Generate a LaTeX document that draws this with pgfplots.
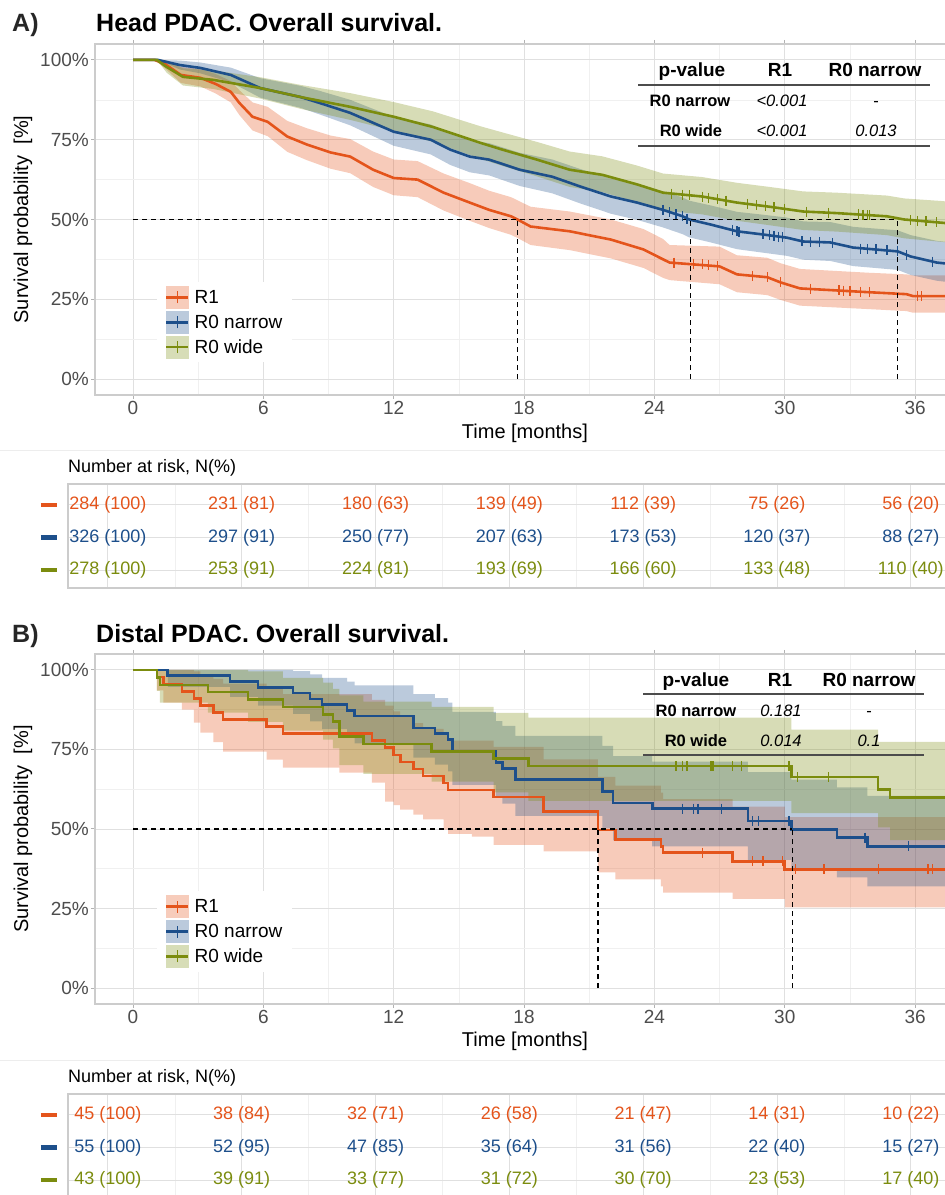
\documentclass[border=0pt]{standalone}
\usepackage{pgfplots}
\usepackage{pgfplotstable}
\pgfplotsset{compat=1.18}
\usepackage{fontspec}
\setmainfont{Liberation Sans}
\definecolor{cR}{HTML}{E4541B}
\definecolor{cN}{HTML}{1D4F8B}
\definecolor{cW}{HTML}{7B8C0E}
\definecolor{tickc}{HTML}{4D4D4D}
\newcommand\fsz[1]{\fontsize{#1}{#1}\selectfont}

% ---------- Panel A data (Kaplan-Meier estimates) ----------
\pgfplotstableread{
t s
0 100
1.0 100
1.5 98.6
2.2 95.3
3.1 94.4
3.8 92.5
4.5 90
4.9 86.5
5.5 82.2
6.2 80.6
7.1 76
8.0 73.5
9.1 71
10 69.7
11.05 65.6
12 63
13.1 62.5
14.3 58.4
15.5 55.3
16.4 53
17.4 51
17.7 50
18.3 47.8
20.1 46.3
22 43.7
23.5 40.6
24.4 37.5
24.7 36.5
27 35.3
27.8 32.8
29.2 31.9
29.8 30.3
30.7 28.4
33.9 27.2
35.6 26.6
35.9 26
38 26
}\ARone
\pgfplotstableread{
t s
0 100
1.15 100
2.16 98.4
3.1 97.5
4.5 95.3
5.85 91.2
7.7 88.4
8.6 86.5
10 83.4
12 77.5
13.7 75
14.6 71.9
15.5 69.7
16.4 68.75
17.8 65.6
19.3 63.4
20.6 60.3
22 57.2
23.2 55.3
24.4 53
25.3 51
25.6 50
26.6 48.4
27.8 46.3
29 45.3
30.1 44.3
30.85 43.1
32.1 42.8
33.15 41.2
35.2 40
35.8 38.4
37 36.5
38 35.8
}\ANar
\pgfplotstableread{
t s
0 100
1.1 100
1.55 97.8
2.3 94.7
3.7 93.75
5.85 91.2
7.7 88.4
10 85.3
12 82.2
13.8 79
16 74
17 71.9
18.6 68.75
20.1 65.6
21.6 64
23.2 61
24.4 58.4
26.2 57.2
27.8 55.3
29.3 54
30.85 52.5
32.4 52
34.7 51
35.5 50
37.2 49
38 48.5
}\AWid
\pgfplotstableread{
t s
24.9 36.5
25.8 36.2
26.2 36
26.5 35.8
26.9 35.5
28.5 32.4
29.2 31.9
29.8 30.3
31.2 28.3
32.5 27.8
32.7 27.7
33.0 27.6
33.5 27.4
33.9 27.2
36.1 26
36.3 26
}\ARoneC
\pgfplotstableread{
t s
24.4 53
24.7 52.3
25.0 51.7
25.3 51
25.5 50.3
27.6 46.6
27.8 46.3
27.9 46.2
29.0 45.3
29.3 45.1
29.5 44.9
29.7 44.6
29.9 44.5
30.8 43.2
31.2 43
31.6 42.9
32.2 42.7
33.5 40.9
33.8 40.8
34.2 40.6
34.7 40.3
35.2 40
35.6 38.9
36.8 36.8
}\ANarC
\pgfplotstableread{
t s
24.8 58.1
25.3 57.8
25.6 57.6
26.2 57.2
26.5 56.8
26.9 56.3
27.3 55.9
28.3 54.9
28.7 54.5
29.1 54.2
29.5 53.8
30.0 53.4
31.0 52.5
32.0 52.1
33.4 51.6
33.6 51.5
33.8 51.4
33.9 51.4
35.8 49.8
36.1 49.6
36.5 49.4
37.0 49.1
}\AWidC

% ---------- Panel B data ----------
\pgfplotstableread{
t s
0 100
1.1 97.8
1.4 95.6
2.25 93.3
2.8 91.1
3.1 88.9
3.7 86.7
4.15 84.4
6.15 82.2
6.9 80.0
11.0 77.8
11.6 75.6
12.0 73.3
12.3 71.1
12.9 68.9
13.35 66.7
14.3 64.4
14.5 62.2
16.6 60.0
18.9 55.5
21.4 49.7
22.2 46.7
24.3 44.5
24.4 42.6
27.6 39.8
30.0 37.3
38 37.3
}\BRone
\pgfplotstableread{
t s
0 100
1.6 98.2
4.47 96.4
5.76 94.5
7.37 92.7
8.15 90.9
8.7 89.1
9.85 87.3
10.2 85.5
12.9 81.8
13.9 80.0
14.5 78.2
14.7 74.5
16.7 70.9
17.0 69.1
17.6 65.5
21.6 61.8
22.1 58.2
23.9 56.4
28.3 52.5
30.3 49.8
32.4 47.3
33.8 44.5
38 44.5
}\BNar
\pgfplotstableread{
t s
0 100
1.1 97.7
1.24 95.3
3.45 93.0
5.3 90.7
6.9 88.4
8.75 86.0
9.2 83.7
9.5 79.1
10.6 76.7
13.75 74.4
16.6 72.1
18.2 69.8
30.3 66.3
34.3 62.5
34.85 59.9
38 59.9
}\BWid
\pgfplotstableread{
t s
26.2 42.6
28.5 39.8
29.0 39.8
29.9 39.8
30.5 37.3
31.8 37.3
34.3 37.3
36.6 37.3
36.8 37.3
}\BRoneC
\pgfplotstableread{
t s
25.3 56.4
25.8 56.4
26.0 56.4
27.1 56.4
28.5 52.5
28.8 52.5
30.2 52.5
33.7 47.3
35.7 44.5
}\BNarC
\pgfplotstableread{
t s
25.0 69.8
25.3 69.8
25.5 69.8
26.6 69.8
26.7 69.8
27.6 69.8
28.0 69.8
30.2 69.8
30.6 66.3
32.0 66.3
}\BWidC

\pgfplotsset{
  km/.style={
    scale only axis, width=907pt,
    xmin=-1.75, xmax=40, ymin=-5, ymax=105,
    xtick={0,6,...,36}, ytick={0,25,50,75,100},
    yticklabels={0\%,25\%,50\%,75\%,100\%},
    minor x tick num=1, minor y tick num=1,
    grid=both,
    major grid style={draw=black!12, line width=0.9pt},
    minor grid style={draw=black!6, line width=0.6pt},
    axis line style={draw=black!20, line width=1.2pt},
    tick align=outside, major tick length=4pt, minor tick length=0pt,
    tick style={draw=black!30, line width=1pt},
    tick label style={font=\fsz{19}, text=tickc},
    xticklabel style={inner sep=2pt},
    yticklabel style={inner sep=2pt},
    /pgf/number format/assume math mode=true,
    xlabel={Time [months]}, ylabel={Survival probability\ \ [\%]},
    label style={font=\fsz{20}},
    xlabel style={at={(axis description cs:0.474,-0.108)}, anchor=center},
    ylabel style={at={(axis description cs:-0.0794,0.5)}, anchor=center},
    legend cell align=left,
    legend style={draw=none, fill=white, font=\fsz{19},
      at={(axis description cs:0.0684,0.322)}, anchor=north west,
      inner xsep=8pt, inner ysep=4pt, row sep=2.5pt},
  },
  risk/.style={
    scale only axis, width=932pt, height=104pt,
    xmin=-1.79, xmax=40, ymin=0.45, ymax=3.64,
    xtick={0,6,...,36}, minor x tick num=1, xticklabels={},
    ytick={1,2,3},
    yticklabels={{\textcolor{cW}{\rule[-2pt]{16pt}{4.5pt}}},{\textcolor{cN}{\rule[-2pt]{16pt}{4.5pt}}},{\textcolor{cR}{\rule[-2pt]{16pt}{4.5pt}}}},
    xmajorgrids, xminorgrids, ymajorgrids,
    major grid style={draw=black!12, line width=0.9pt},
    minor grid style={draw=black!6, line width=0.6pt},
    axis line style={draw=black!20, line width=1.2pt},
    major tick length=0pt, minor tick length=0pt,
    yticklabel style={inner sep=0pt, xshift=-11pt},
    clip=false,
  },
  rt/.style={only marks, mark=*, mark size=0pt, mark options={draw=none,fill=none},
    nodes near coords={\pgfplotspointmeta}, point meta=explicit symbolic,
    every node near coord/.append style={anchor=center, font=\fsz{18}, text=#1}},
  band/.style={fill=#1, fill opacity=0.3, draw=none, forget plot},
  kmline/.style={#1, line width=2.6pt, forget plot},
  cens/.style={#1, only marks, mark=|, mark size=5pt, mark options={line width=1.3pt}, forget plot},
  med/.style={black, line width=1.4pt, dash pattern=on 5pt off 4pt, forget plot},
}

\newcommand\legimg[1]{\addlegendimage{legend image code/.code={%
  \fill[#1!30] (0pt,-11pt) rectangle (22pt,11pt);
  \draw[#1,line width=2.5pt] (0pt,0pt)--(22pt,0pt);
  \draw[#1,line width=1.5pt] (11pt,-6pt)--(11pt,6pt);
  \path (26pt,0pt);}}}

\begin{document}
\begin{tikzpicture}
\path[use as bounding box] (0pt,0pt) rectangle (945pt,1195pt);
\clip (0pt,0pt) rectangle (945pt,1195pt);

% ================= Panel A =================
\begin{axis}[km, height=351pt, at={(95pt,800pt)}, anchor=south west]
% 95% confidence bands: upper limits forward, lower limits backward
\addplot[band=cR] coordinates {(0,100)(1.0,100)(1.5,99.9)(2.2,97.8)(3.1,97.2)(3.8,95.6)(4.5,93.4)(4.9,90.5)(5.5,86.7)(6.2,85.3)(7.1,80.9)(8.0,78.6)(9.1,76.3)(10,75.2)(11.05,71.3)(12,68.8)(13.1,68.3)(14.3,64.4)(15.5,61.4)(16.4,59)(17.4,57)(17.7,56)(18.3,54)(20.1,52.5)(22,50)(23.5,47)(24.4,43.9)(24.7,42)(27,41.5)(27.8,38.8)(29.2,38)(29.8,36.3)(30.7,34.5)(33.9,33.3)(35.6,32.8)(35.9,32.5)(38,32.5)
(38,20.8)(35.9,20.8)(35.6,21.3)(33.9,21.9)(30.7,23)(29.8,24.8)(29.2,26.3)(27.8,27.2)(27,29.7)(24.7,31)(24.4,31.7)(23.5,34.8)(22,37.8)(20.1,40.4)(18.3,42)(17.7,44.2)(17.4,45.2)(16.4,47.3)(15.5,49.6)(14.3,52.8)(13.1,57)(12,57.6)(11.05,60.2)(10,64.5)(9.1,65.9)(8.0,68.6)(7.1,71.2)(6.2,76.1)(5.5,77.9)(4.9,82.7)(4.5,86.7)(3.8,89.5)(3.1,91.7)(2.2,92.8)(1.5,97.2)(1.0,100)(0,100)};
\addplot[band=cN] coordinates {(0,100)(1.15,100)(2.16,99.8)(3.1,99.2)(4.5,97.6)(5.85,94.3)(7.7,91.9)(8.6,90.3)(10,87.5)(12,82.1)(13.7,79.8)(14.6,76.9)(15.5,74.8)(16.4,73.9)(17.8,70.9)(19.3,68.8)(20.6,65.8)(22,62.8)(23.2,61)(24.4,58.8)(25.3,56.9)(25.6,55.9)(26.6,54.4)(27.8,52.4)(29,51.5)(30.1,50.6)(30.85,49.4)(32.1,49.2)(33.15,47.7)(35.2,46.6)(35.8,45.1)(37,43.3)(38,42.6)
(38,30)(37,30.8)(35.8,32.6)(35.2,34.2)(33.15,35.4)(32.1,37)(30.85,37.4)(30.1,38.6)(29,39.6)(27.8,40.7)(26.6,42.8)(25.6,44.4)(25.3,45.4)(24.4,47.5)(23.2,49.9)(22,51.8)(20.6,55)(19.3,58.2)(17.8,60.5)(16.4,63.8)(15.5,64.8)(14.6,67.1)(13.7,70.4)(12,73.1)(10,79.5)(8.6,82.9)(7.7,85)(5.85,88.2)(4.5,93)(3.1,95.8)(2.16,97.0)(1.15,100)(0,100)};
\addplot[band=cW] coordinates {(0,100)(1.1,100)(1.55,99.6)(2.3,97.4)(3.7,96.7)(5.85,94.6)(7.7,92.2)(10,89.6)(12,86.8)(13.8,83.9)(16,79.2)(17,77.3)(18.6,74.3)(20.1,71.3)(21.6,69.8)(23.2,66.9)(24.4,64.4)(26.2,63.3)(27.8,61.5)(29.3,60.2)(30.85,58.8)(32.4,58.4)(34.7,57.5)(35.5,56.6)(37.2,55.8)(38,55.3)
(38,42.5)(37.2,43)(35.5,44.1)(34.7,45.1)(32.4,46.2)(30.85,46.7)(29.3,48.2)(27.8,49.6)(26.2,51.6)(24.4,52.8)(23.2,55.4)(21.6,58.6)(20.1,60.2)(18.6,63.5)(17,66.8)(16,69)(13.8,74.3)(12,77.8)(10,81.2)(7.7,84.7)(5.85,87.9)(3.7,90.9)(2.3,92)(1.55,96)(1.1,100)(0,100)};
\addplot[kmline=cR] table[x=t,y=s]{\ARone};
\addplot[kmline=cN] table[x=t,y=s]{\ANar};
\addplot[kmline=cW] table[x=t,y=s]{\AWid};
\addplot[cens=cR] table[x=t,y=s]{\ARoneC};
\addplot[cens=cN] table[x=t,y=s]{\ANarC};
\addplot[cens=cW] table[x=t,y=s]{\AWidC};
\addplot[med] coordinates {(0,50) (35.2,50)};
\addplot[med] coordinates {(17.7,0) (17.7,50)};
\addplot[med] coordinates {(25.65,0) (25.65,50)};
\addplot[med] coordinates {(35.2,0) (35.2,50)};
\legimg{cR}\addlegendentry{R1}
\legimg{cN}\addlegendentry{R0 narrow}
\legimg{cW}\addlegendentry{R0 wide}
\end{axis}

\begin{axis}[risk, at={(68pt,607pt)}, anchor=south west]
\addplot[rt=cR] table[x=t,y=r,meta=lab,col sep=comma,row sep=\\]{t,r,lab\\0,3,284 (100)\\6,3,231 (81)\\12,3,180 (63)\\18,3,139 (49)\\24,3,112 (39)\\30,3,75 (26)\\36,3,56 (20)\\};
\addplot[rt=cN] table[x=t,y=r,meta=lab,col sep=comma,row sep=\\]{t,r,lab\\0,2,326 (100)\\6,2,297 (91)\\12,2,250 (77)\\18,2,207 (63)\\24,2,173 (53)\\30,2,120 (37)\\36,2,88 (27)\\};
\addplot[rt=cW] table[x=t,y=r,meta=lab,col sep=comma,row sep=\\]{t,r,lab\\0,1,278 (100)\\6,1,253 (91)\\12,1,224 (81)\\18,1,193 (69)\\24,1,166 (60)\\30,1,133 (48)\\36,1,110 (40)\\};
\end{axis}

% ================= Panel B =================
\begin{axis}[km, height=350pt, at={(95pt,191pt)}, anchor=south west]
\addplot[band=cR] coordinates {(0,100)(2.8,100)(2.8,99.5)(3.1,99.5)(3.1,98.5)(3.7,98.5)(3.7,97.2)(4.15,97.2)(4.15,95.7)(6.15,95.7)(6.15,94.1)(6.9,94.1)(6.9,92.4)(11.0,92.4)(11.0,90.6)(11.6,90.6)(11.6,88.8)(12.0,88.8)(12.0,87.0)(12.3,87.0)(12.3,85.2)(12.9,85.2)(12.9,83.3)(13.35,83.3)(13.35,81.5)(14.3,81.5)(14.3,79.6)(14.5,79.6)(14.5,77.8)(16.6,77.8)(16.6,75.8)(18.9,75.8)(18.9,71.9)(21.4,71.9)(21.4,66.4)(22.2,66.4)(22.2,63.6)(24.3,63.6)(24.3,61.4)(24.4,61.4)(24.4,59.4)(27.6,59.4)(27.6,57.0)(30.0,57.0)(30.0,53.7)(38,53.7)
(38,25.4)(30.0,25.4)(30.0,28.0)(27.6,28.0)(27.6,30.0)(24.4,30.0)(24.4,32.0)(24.3,32.0)(24.3,34.2)(22.2,34.2)(22.2,36.4)(21.4,36.4)(21.4,43.0)(18.9,43.0)(18.9,45.0)(16.6,45.0)(16.6,47.6)(15.6,47.6)(15.6,48.5)(14.5,48.5)(14.5,49.8)(14.3,49.8)(14.3,53.0)(13.35,53.0)(13.35,54.5)(12.9,54.5)(12.9,56.1)(12.3,56.1)(12.3,57.5)(12.0,57.5)(12.0,58.6)(11.6,58.6)(11.6,64.6)(11.0,64.6)(11.0,67.7)(9.5,67.7)(9.5,69.3)(6.9,69.3)(6.9,71.8)(6.15,71.8)(6.15,74.3)(4.15,74.3)(4.15,77.3)(3.7,77.3)(3.7,80.3)(3.1,80.3)(3.1,83.4)(2.8,83.4)(2.8,87.5)(2.25,87.5)(2.25,89.7)(1.4,89.7)(1.4,93.6)(1.1,93.6)(1.1,100)(0,100)};
\addplot[band=cN] coordinates {(0,100)(7.37,100)(7.37,99.6)(8.15,99.6)(8.15,98.6)(8.7,98.6)(8.7,97.5)(9.85,97.5)(9.85,96.3)(10.2,96.3)(10.2,95.1)(12.9,95.1)(12.9,92.4)(13.9,92.4)(13.9,91.1)(14.5,91.1)(14.5,89.7)(14.7,89.7)(14.7,86.8)(16.7,86.8)(16.7,83.9)(17.0,83.9)(17.0,82.4)(17.6,82.4)(17.6,79.3)(21.6,79.3)(21.6,76.1)(22.1,76.1)(22.1,72.9)(23.9,72.9)(23.9,71.2)(28.3,71.2)(28.3,67.9)(30.3,67.9)(30.3,65.5)(32.4,65.5)(32.4,63.1)(33.8,63.1)(33.8,60.4)(38,60.4)
(38,32.0)(33.8,32.0)(33.8,34.8)(32.4,34.8)(32.4,37.4)(30.3,37.4)(30.3,40.3)(28.3,40.3)(28.3,44.5)(23.9,44.5)(23.9,46.4)(22.1,46.4)(22.1,50.2)(21.6,50.2)(21.6,54.1)(17.6,54.1)(17.6,58.0)(17.0,58.0)(17.0,59.9)(16.7,59.9)(16.7,63.9)(14.7,63.9)(14.7,68.1)(14.5,68.1)(14.5,70.2)(13.9,70.2)(13.9,72.4)(12.9,72.4)(12.9,76.9)(10.2,76.9)(10.2,79.1)(9.85,79.1)(9.85,81.4)(8.7,81.4)(8.7,83.8)(8.15,83.8)(8.15,86.2)(7.37,86.2)(7.37,88.8)(5.76,88.8)(5.76,91.5)(4.47,91.5)(4.47,94.7)(1.6,94.7)(1.6,100)(0,100)};
\addplot[band=cW] coordinates {(0,100)(5.3,100)(5.3,99.5)(6.9,99.5)(6.9,97.5)(8.75,97.5)(8.75,96.0)(9.2,96.0)(9.2,94.0)(9.5,94.0)(9.5,92.0)(10.6,92.0)(10.6,90.0)(13.75,90.0)(13.75,88.4)(16.6,88.4)(16.6,86.5)(18.2,86.5)(18.2,85.0)(30.3,85.0)(30.3,81.2)(34.3,81.2)(34.3,77.4)(38,77.4)
(38,46.5)(34.85,46.5)(34.85,50.5)(34.3,50.5)(34.3,55.0)(30.3,55.0)(30.3,58.8)(18.2,58.8)(18.2,61.5)(16.6,61.5)(16.6,64.9)(13.75,64.9)(13.75,67.3)(10.6,67.3)(10.6,70.1)(9.5,70.1)(9.5,75.3)(9.2,75.3)(9.2,78.1)(8.75,78.1)(8.75,80.9)(6.9,80.9)(6.9,83.7)(5.3,83.7)(5.3,86.6)(3.45,86.6)(3.45,89.7)(1.24,89.7)(1.24,93.4)(1.1,93.4)(1.1,100)(0,100)};
\addplot[kmline=cR, const plot] table[x=t,y=s]{\BRone};
\addplot[kmline=cN, const plot] table[x=t,y=s]{\BNar};
\addplot[kmline=cW, const plot] table[x=t,y=s]{\BWid};
\addplot[cens=cR] table[x=t,y=s]{\BRoneC};
\addplot[cens=cN] table[x=t,y=s]{\BNarC};
\addplot[cens=cW] table[x=t,y=s]{\BWidC};
\addplot[med] coordinates {(0,50) (30.35,50)};
\addplot[med] coordinates {(21.4,0) (21.4,50)};
\addplot[med] coordinates {(30.35,0) (30.35,50)};
\legimg{cR}\addlegendentry{R1}
\legimg{cN}\addlegendentry{R0 narrow}
\legimg{cW}\addlegendentry{R0 wide}
\end{axis}

\begin{axis}[risk, at={(68pt,-3pt)}, anchor=south west]
\addplot[rt=cR] table[x=t,y=r,meta=lab,col sep=comma,row sep=\\]{t,r,lab\\0,3,45 (100)\\6,3,38 (84)\\12,3,32 (71)\\18,3,26 (58)\\24,3,21 (47)\\30,3,14 (31)\\36,3,10 (22)\\};
\addplot[rt=cN] table[x=t,y=r,meta=lab,col sep=comma,row sep=\\]{t,r,lab\\0,2,55 (100)\\6,2,52 (95)\\12,2,47 (85)\\18,2,35 (64)\\24,2,31 (56)\\30,2,22 (40)\\36,2,15 (27)\\};
\addplot[rt=cW] table[x=t,y=r,meta=lab,col sep=comma,row sep=\\]{t,r,lab\\0,1,43 (100)\\6,1,39 (91)\\12,1,33 (77)\\18,1,31 (72)\\24,1,30 (70)\\30,1,23 (53)\\36,1,17 (40)\\};
\end{axis}

% ================= Titles =================
\node[anchor=base west, inner sep=0pt, font=\bfseries\fsz{25}, text=black!85] at (12pt,1163pt) {A)};
\node[anchor=base west, inner sep=0pt, font=\bfseries\fsz{25}] at (96pt,1163pt) {Head PDAC. Overall survival.};
\node[anchor=base west, inner sep=0pt, font=\bfseries\fsz{25}, text=black!85] at (12pt,552pt) {B)};
\node[anchor=base west, inner sep=0pt, font=\bfseries\fsz{25}] at (96pt,552pt) {Distal PDAC. Overall survival.};

% separators and risk titles
\draw[black!7, line width=1pt] (0pt,744pt) -- (945pt,744pt);
\draw[black!7, line width=1pt] (0pt,134pt) -- (945pt,134pt);
\node[anchor=base west, inner sep=0pt, font=\fsz{18}] at (68pt,722pt) {Number at risk, N(\%)};
\node[anchor=base west, inner sep=0pt, font=\fsz{18}] at (68pt,112pt) {Number at risk, N(\%)};

% ================= p-value table A =================
\node[anchor=base, inner sep=0pt, font=\bfseries\fsz{19}] at (692pt,1118pt) {p-value};
\node[anchor=base, inner sep=0pt, font=\bfseries\fsz{19}] at (780pt,1118pt) {R1};
\node[anchor=base, inner sep=0pt, font=\bfseries\fsz{19}] at (875pt,1118pt) {R0 narrow};
\draw[black!70, line width=1.5pt] (638pt,1110pt) -- (930pt,1110pt);
\node[anchor=base, inner sep=0pt, font=\bfseries\fsz{16.5}] at (690pt,1088pt) {R0 narrow};
\node[anchor=base, inner sep=0pt, font=\itshape\fsz{16.5}] at (782pt,1088pt) {<0.001};
\node[anchor=base, inner sep=0pt, font=\fsz{16.5}] at (876pt,1088pt) {-};
\node[anchor=base, inner sep=0pt, font=\bfseries\fsz{16.5}] at (691pt,1058pt) {R0 wide};
\node[anchor=base, inner sep=0pt, font=\itshape\fsz{16.5}] at (782pt,1058pt) {<0.001};
\node[anchor=base, inner sep=0pt, font=\itshape\fsz{16.5}] at (876pt,1058pt) {0.013};
\draw[black!70, line width=1.5pt] (638pt,1049pt) -- (930pt,1049pt);

% ================= p-value table B =================
\node[anchor=base, inner sep=0pt, font=\bfseries\fsz{19}] at (696pt,508pt) {p-value};
\node[anchor=base, inner sep=0pt, font=\bfseries\fsz{19}] at (780pt,508pt) {R1};
\node[anchor=base, inner sep=0pt, font=\bfseries\fsz{19}] at (869pt,508pt) {R0 narrow};
\draw[black!70, line width=1.5pt] (643pt,501pt) -- (924pt,501pt);
\node[anchor=base, inner sep=0pt, font=\bfseries\fsz{16.5}] at (696pt,478pt) {R0 narrow};
\node[anchor=base, inner sep=0pt, font=\itshape\fsz{16.5}] at (781pt,478pt) {0.181};
\node[anchor=base, inner sep=0pt, font=\fsz{16.5}] at (869pt,478pt) {-};
\node[anchor=base, inner sep=0pt, font=\bfseries\fsz{16.5}] at (696pt,448pt) {R0 wide};
\node[anchor=base, inner sep=0pt, font=\itshape\fsz{16.5}] at (781pt,448pt) {0.014};
\node[anchor=base, inner sep=0pt, font=\itshape\fsz{16.5}] at (869pt,448pt) {0.1};
\draw[black!70, line width=1.5pt] (643pt,440pt) -- (924pt,440pt);
\end{tikzpicture}
\end{document}
